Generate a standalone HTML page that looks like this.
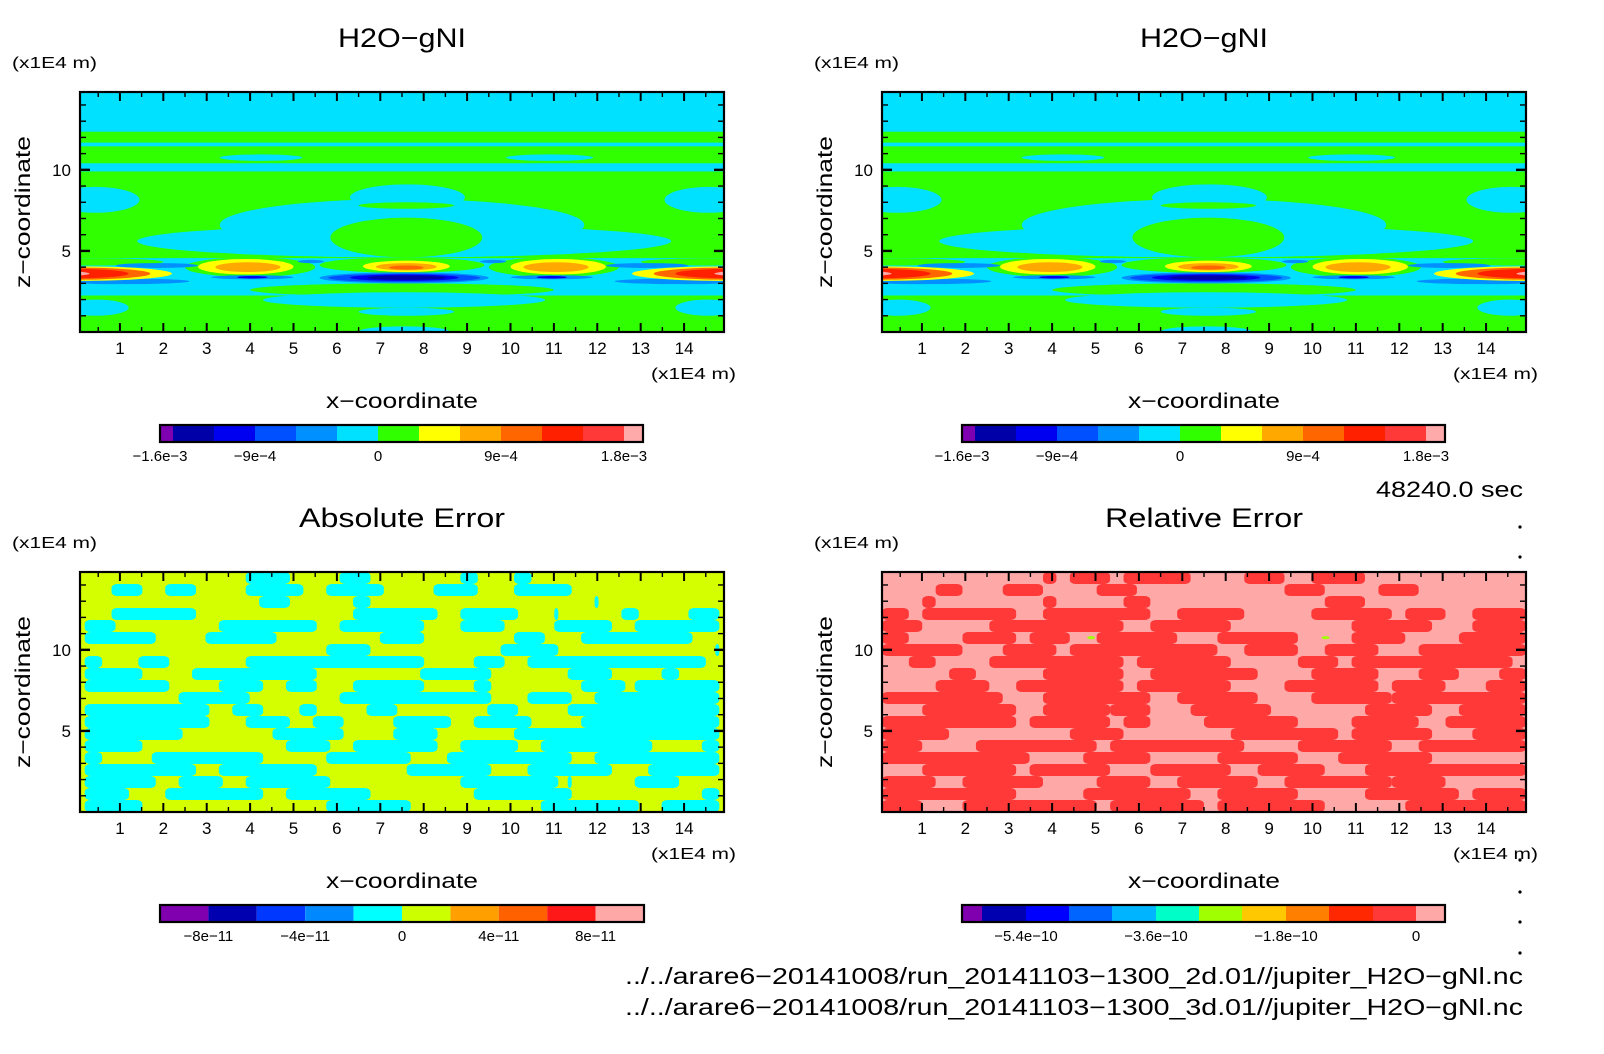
<!DOCTYPE html>
<html><head><meta charset="utf-8"><style>
html,body{margin:0;padding:0;background:#fff;}
svg{display:block;font-family:"Liberation Sans",sans-serif;}
</style></head><body>
<svg id="chart" width="1604" height="1054" viewBox="0 0 1604 1054">
<rect x="0" y="0" width="1604" height="1054" fill="#fff"/>
</svg>
<script>
// ---------- data ----------
const xTicks = [1,2,3,4,5,6,7,8,9,10,11,12,13,14];
const zTicks = [5,10];
const topColors = ["#7f00b0","#0000a8","#0000f0","#0050ff","#0090ff","#00e0ff","#30ff00","#ffff00","#ffa800","#ff6600","#ff2000","#ff3838","#ffaaaa"];
const topBounds = [160,173,214,255,296,337,378,419,460,501,542,583,624,643];
const topLabels = ["−1.6e−3","−9e−4","0","9e−4","1.8e−3"];
const topLabelIdx = [0,3,6,9,12];
const absColors = ["#8000b0","#0000b0","#0038ff","#0088ff","#00ffff","#ccff00","#ffa000","#ff6000","#ff1818","#ffa8a8"];
const absLabels = ["−8e−11","−4e−11","0","4e−11","8e−11"];
const absLabelIdx = [1,3,5,7,9];
const relColors = ["#8000b0","#0000b0","#0000ff","#0064ff","#00b4ff","#00ffc8","#a0ff00","#ffc800","#ff8000","#ff2800","#ff3838","#ffa8a8"];
const relBounds = [962,982,1026,1069,1112,1156,1199,1242,1286,1329,1373,1416,1445];
const relLabels = ["−5.4e−10","−3.6e−10","−1.8e−10","0"];
const relLabelIdx = [2,5,8,11];
// contour regions of H2O-gNI: [kind, level, x0, x1, z0, z1]
const topRegions = [
 ["r",5,-1,16,-1,16],
 ["r",6,-1,16,10.4,12.35],
 ["r",5,-1,16,11.45,11.68],
 ["e",5,3.3,5.2,10.55,10.95],["e",5,9.9,11.9,10.55,10.95],
 ["r",5,-1,16,9.9,10.4],
 ["r",6,-1,16,4.55,9.9],
 ["e",5,-0.6,1.45,7.35,8.95],["e",5,13.55,15.6,7.35,8.95],
 ["e",5,3.3,11.7,5.0,8.2],
 ["e",5,1.4,13.7,4.6,6.6],
 ["e",6,5.85,9.35,4.6,7.05],
 ["e",5,6.3,8.95,7.5,9.1],
 ["e",6,6.5,8.7,7.6,8.0],
 ["r",5,-1,16,-1,4.55],
 ["r",6,-1,16,-1,2.25],
 ["e",6,4.0,11.0,2.2,3.0],
 ["e",5,4.3,10.8,1.5,2.45],
 ["e",5,6.5,8.7,1.0,1.5],
 ["e",5,6.5,8.6,-0.3,0.35],
 ["e",5,-0.3,1.2,1.0,2.0],["e",5,13.8,15.3,1.0,2.0],
 ["e",6,-1.5,2.0,4.1,4.55],["e",6,13.0,16.5,4.1,4.55],
 ["e",6,2.5,5.5,3.4,4.6],["e",6,9.5,12.5,3.4,4.6],
 ["e",6,5.6,9.4,3.65,4.6],
 ["e",4,0.9,2.8,3.95,4.25],["e",4,12.2,14.1,3.95,4.25],
 ["e",4,5.1,5.7,4.25,4.45],["e",4,9.3,9.9,4.25,4.45],
 ["e",4,-0.5,2.6,2.95,3.3],["e",4,12.4,15.5,2.95,3.3],
 ["e",7,-2.2,2.2,3.15,4.05],["e",7,12.8,17.2,3.15,4.05],
 ["e",9,-2.0,1.7,3.22,3.98],["e",9,13.3,17.0,3.22,3.98],
 ["e",10,-1.6,1.2,3.3,3.9],["e",10,13.8,16.6,3.3,3.9],
 ["e",12,-1.0,0.3,3.45,3.75],["e",12,14.7,16.0,3.45,3.75],
 ["e",7,2.8,5.0,3.55,4.5],["e",7,10.0,12.2,3.55,4.5],
 ["e",8,3.2,4.7,3.7,4.3],["e",8,10.3,11.8,3.7,4.3],
 ["e",4,3.1,5.0,3.25,3.5],["e",4,10.0,11.9,3.25,3.5],
 ["e",2,3.7,4.4,3.3,3.45],["e",2,10.6,11.3,3.3,3.45],
 ["e",7,6.6,8.6,3.7,4.4],
 ["e",8,6.9,8.3,3.8,4.25],
 ["e",9,7.2,8.0,3.85,4.1],
 ["e",4,5.6,9.5,3.0,3.68],
 ["e",3,5.8,9.3,3.08,3.6],
 ["e",2,6.3,8.8,3.15,3.55],
 ["e",1,6.7,8.5,3.22,3.48]
];
// Absolute error: cyan runs per row (column index ranges, 48 columns x 20 rows)
const absRuns = [
 [[12,15],[19,21],[28,29],[32,33]],
 [[2,4],[6,8],[12,16],[18,22],[26,29],[32,36]],
 [[13,15],[20,21],[38,38]],
 [[2,8],[20,26],[28,32],[35,35],[40,41],[45,47]],
 [[0,2],[10,17],[19,25],[28,31],[35,39],[41,47]],
 [[0,5],[9,14],[22,25],[32,34],[37,45]],
 [[18,21],[31,35],[47,47]],
 [[0,1],[4,6],[12,25],[29,31],[33,46]],
 [[0,4],[8,17],[25,30],[36,39],[43,44]],
 [[0,6],[10,13],[15,17],[20,25],[29,30],[37,40],[41,47]],
 [[7,12],[19,30],[33,36],[38,47]],
 [[0,9],[11,13],[16,17],[21,23],[30,32],[36,47]],
 [[0,9],[12,15],[17,19],[23,27],[29,33],[37,47]],
 [[0,7],[14,19],[23,26],[32,47]],
 [[0,4],[15,18],[20,26],[28,32],[34,42],[46,47]],
 [[0,1],[5,13],[18,24],[27,36],[38,47]],
 [[0,8],[10,17],[24,30],[33,39],[42,47]],
 [[0,5],[7,10],[12,18],[28,35],[36,36],[41,44]],
 [[0,3],[6,13],[15,21],[29,36],[46,47]],
 [[0,4],[18,24],[34,41],[43,47]]
];
// Relative error: red runs per row
const relRuns = [
 [[12,12],[14,16],[18,22],[27,29],[32,35]],
 [[4,5],[9,11],[16,18],[30,32],[37,39]],
 [[3,3],[12,12],[18,19],[33,35]],
 [[0,1],[3,9],[12,19],[22,26],[32,37],[39,41],[44,47]],
 [[0,2],[8,17],[20,25],[35,40],[44,47]],
 [[0,1],[6,9],[11,13],[16,21],[25,30],[35,38],[43,47]],
 [[0,5],[9,12],[14,24],[27,30],[33,36],[40,47]],
 [[2,3],[8,17],[19,25],[31,33],[35,46]],
 [[5,6],[12,17],[20,27],[32,36],[40,42],[46,47]],
 [[4,7],[10,17],[19,25],[30,36],[38,41],[45,47]],
 [[0,8],[12,19],[22,27],[32,37],[38,47]],
 [[3,9],[12,16],[17,19],[23,28],[36,40],[43,47]],
 [[0,9],[11,16],[18,19],[24,30],[35,39],[42,47]],
 [[0,4],[14,17],[26,33],[35,40],[44,47]],
 [[0,2],[7,15],[17,26],[31,37],[40,47]],
 [[0,10],[15,19],[25,30],[34,40]],
 [[3,9],[11,16],[20,25],[28,32],[36,47]],
 [[0,3],[6,11],[16,19],[22,27],[30,37],[38,41]],
 [[0,9],[15,22],[25,30],[36,42],[44,47]],
 [[0,2],[6,15],[17,23],[25,32],[39,47]]
];
const NCOL = 48, NROW = 20;
// ---------- layout / scales ----------
const NS = "http://www.w3.org/2000/svg";
const svg = document.getElementById("chart");
const XMIN = 0.08, XMAX = 14.92, ZMAX = 14.8, PW = 644, PH = 240;
function sx(X0, v){ return X0 + (v - XMIN) / (XMAX - XMIN) * PW; }
function sz(T, v){ return T + PH - v / ZMAX * PH; }
function mk(tag, attrs, parent){
  const el = document.createElementNS(NS, tag);
  for (const k in attrs) el.setAttribute(k, attrs[k]);
  (parent || svg).appendChild(el);
  return el;
}
function txt(s, x, y, size, anchor, parent, len){
  const t = mk("text", {x:x, y:y, "font-size":size, "text-anchor":anchor||"start", fill:"#000"}, parent);
  if (len){ t.setAttribute("textLength", len); t.setAttribute("lengthAdjust","spacingAndGlyphs"); }
  t.textContent = s;
  return t;
}
let clipId = 0;
function panel(X0, T, title, titleLen, kind, pname){
  const g = mk("g", {});
  
  
  const cid = "clip" + (clipId++);
  const cp = mk("clipPath", {id:cid}, g);
  mk("rect", {x:X0, y:T, width:PW, height:PH}, cp);
  const field = mk("g", {"clip-path":"url(#"+cid+")"}, g);
  
  
  if (kind === "top"){
    topRegions.forEach(r => {
      const x0 = sx(X0, r[2]), x1 = sx(X0, r[3]), y0 = sz(T, r[5]), y1 = sz(T, r[4]);
      let el;
      if (r[0] === "r") el = mk("rect", {x:x0, y:y0, width:x1-x0, height:y1-y0, fill:topColors[r[1]]}, field);
      else el = mk("ellipse", {cx:(x0+x1)/2, cy:(y0+y1)/2, rx:(x1-x0)/2, ry:(y1-y0)/2, fill:topColors[r[1]]}, field);
      
      
    });
  } else {
    const runs = kind === "abs" ? absRuns : relRuns;
    const bg = kind === "abs" ? "#d4ff00" : "#ffa8a8";
    const fg = kind === "abs" ? "#00ffff" : "#ff3838";
    const inset = kind === "abs" ? 0.35 : 0;
    mk("rect", {x:X0, y:T, width:PW, height:PH, fill:bg}, field);
    runs.forEach((row, ri) => {
      row.forEach(run => {
        const xa = XMIN + (run[0] + inset) * (XMAX - XMIN) / NCOL;
        const xb = XMIN + (run[1] + 1 - inset) * (XMAX - XMIN) / NCOL;
        const zt = ZMAX - ri * ZMAX / NROW, zb = ZMAX - (ri + 1) * ZMAX / NROW;
        const x0 = sx(X0, xa), x1 = sx(X0, xb), y0 = sz(T, zt), y1 = sz(T, zb);
        const el = mk("rect", {x:x0, y:y0, width:x1-x0, height:y1-y0, rx:6, ry:4, fill:fg}, field);
        
        
      });
    });
    if (kind === "rel"){
      [[4.9,10.75],[10.3,10.75]].forEach(p => {
        const d = mk("ellipse", {cx:sx(X0,p[0]), cy:sz(T,p[1]), rx:4, ry:1.5, fill:"#a0ff00"}, field);
        
        
      });
    }
  }
  const fr = mk("rect", {x:X0, y:T, width:PW, height:PH, fill:"none", stroke:"#000", "stroke-width":2.2}, g);
  
  
  for (let v = 0.5; v < XMAX; v += 0.5){
    if (v < XMIN) continue;
    const major = Math.abs(v - Math.round(v)) < 1e-6;
    const L = major ? 9 : 5, x = sx(X0, v);
    mk("line", {x1:x, x2:x, y1:T+PH, y2:T+PH-L, stroke:"#000", "stroke-width":major?2:1.4}, g);
    mk("line", {x1:x, x2:x, y1:T, y2:T+L, stroke:"#000", "stroke-width":major?2:1.4}, g);
  }
  for (let v = 1; v < ZMAX; v += 1){
    const major = zTicks.indexOf(v) >= 0;
    const L = major ? 10 : 6, y = sz(T, v);
    mk("line", {x1:X0, x2:X0+L, y1:y, y2:y, stroke:"#000", "stroke-width":major?2.4:1.4}, g);
    mk("line", {x1:X0+PW, x2:X0+PW-L, y1:y, y2:y, stroke:"#000", "stroke-width":major?2.4:1.4}, g);
  }
  xTicks.forEach(v => {
    const t = txt(String(v), sx(X0, v), T+PH+22, 17, "middle", g);
    
    
  });
  zTicks.forEach(v => {
    const t = txt(String(v), X0-9, sz(T, v)+6, 17, "end", g);
    
    
  });
  let t = txt(title, X0+PW/2, T-45, 27, "middle", g, titleLen);
  
  
  t = txt("(x1E4 m)", X0-68, T-24, 16, "start", g, 85);
  
  
  t = txt("(x1E4 m)", X0+PW+12, T+PH+47, 16, "end", g, 85);
  
  
  t = txt("x−coordinate", X0+PW/2, T+PH+76, 21, "middle", g, 152);
  
  
  t = txt("z−coordinate", 0, 0, 21, "middle", g, 152);
  t.setAttribute("transform", "translate(" + (X0-50) + "," + (T+120) + ") rotate(-90)");
  
  
  return g;
}
function colorbar(X0, T, colors, bounds, labels, labelIdx){
  const g = mk("g", {});
  
  
  const yb = T + PH + 93, h = 17;
  colors.forEach((c, i) => {
    const r = mk("rect", {x:X0+bounds[i]-80, y:yb, width:bounds[i+1]-bounds[i], height:h, fill:c}, g);
    
    
  });
  mk("rect", {x:X0+bounds[0]-80, y:yb, width:bounds[bounds.length-1]-bounds[0], height:h, fill:"none", stroke:"#000", "stroke-width":2.2}, g);
  labels.forEach((s, i) => {
    const t = txt(s, X0+bounds[labelIdx[i]]-80, yb+h+19, 15, "middle", g);
    
    
  });
}
const absBounds = absColors.map((c,i)=>160+i*48.4).concat([644]);
const relB = relBounds.map(b => b - 802);

const P = [[80,92],[882,92],[80,572],[882,572]];
panel(P[0][0], P[0][1], "H2O−gNI", 128, "top", "panel-h2o-2d");
colorbar(P[0][0], P[0][1], topColors, topBounds, topLabels, topLabelIdx);
panel(P[1][0], P[1][1], "H2O−gNI", 128, "top", "panel-h2o-3d");
colorbar(P[1][0], P[1][1], topColors, topBounds, topLabels, topLabelIdx);
panel(P[2][0], P[2][1], "Absolute Error", 206, "abs", "panel-absolute-error");
colorbar(P[2][0], P[2][1], absColors, absBounds, absLabels, absLabelIdx);
panel(P[3][0], P[3][1], "Relative Error", 198, "rel", "panel-relative-error");
colorbar(P[3][0], P[3][1], relColors, relB, relLabels, relLabelIdx);

let t = txt("48240.0 sec", 1523, 497, 22, "end", svg, 147);


t = txt("../../arare6−20141008/run_20141103−1300_2d.01//jupiter_H2O−gNl.nc", 1523, 984, 23, "end", svg, 898);


t = txt("../../arare6−20141008/run_20141103−1300_3d.01//jupiter_H2O−gNl.nc", 1523, 1015, 23, "end", svg, 898);


[527,557,860,892,922,953].forEach(y => {
  const d = mk("circle", {cx:1520, cy:y, r:1.6, fill:"#000"});
  
  
});
</script>
</body></html>
